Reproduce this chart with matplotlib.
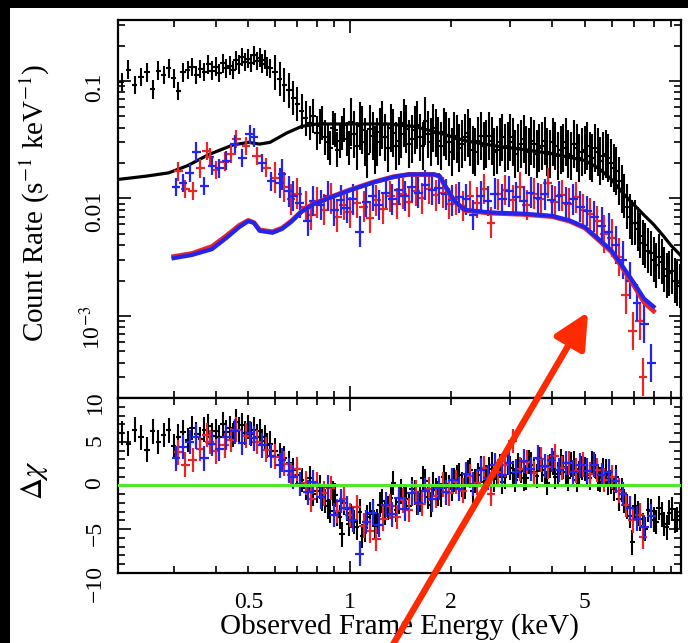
import numpy as np
import matplotlib
matplotlib.use("Agg")
import matplotlib.pyplot as plt
from matplotlib.ticker import FixedLocator, FuncFormatter, LogLocator, MultipleLocator, NullFormatter
from matplotlib.patches import Rectangle, FancyArrowPatch

plt.rcParams['font.family'] = ['Liberation Serif', 'DejaVu Serif']
plt.rcParams['mathtext.fontset'] = 'stix'

# ---- black spectrum (count rate, residuals) ----
black_e = [0.20, 0.21, 0.22, 0.23, 0.24, 0.25, 0.26, 0.27, 0.28, 0.29,
           0.30, 0.31, 0.32, 0.33, 0.34, 0.35, 0.36, 0.37, 0.38, 0.39,
           0.40, 0.41, 0.42, 0.43, 0.44, 0.45, 0.46, 0.47, 0.48, 0.49,
           0.50, 0.51, 0.52, 0.53, 0.54, 0.55, 0.56, 0.57, 0.58,
           0.60, 0.62, 0.64, 0.66, 0.68, 0.70, 0.72, 0.74, 0.76, 0.78, 0.80,
           0.83, 0.86, 0.89, 0.92, 0.95, 0.98,
           1.01, 1.05, 1.09, 1.13, 1.17, 1.21, 1.25, 1.30, 1.35, 1.40, 1.45, 1.50,
           1.56, 1.62, 1.68, 1.74, 1.80, 1.87, 1.94,
           2.01, 2.08, 2.16, 2.24, 2.32, 2.41, 2.50, 2.59, 2.69, 2.79, 2.89,
           3.00, 3.11, 3.23, 3.35, 3.47, 3.60, 3.73, 3.87, 4.01, 4.16, 4.31, 4.47, 4.64, 4.81, 4.99,
           5.17, 5.36, 5.56, 5.77, 5.98, 6.20, 6.43,
           6.67, 6.92, 7.17, 7.44, 7.71, 8.00, 8.30, 8.60, 8.92, 9.25, 9.60]
black_rate = [0.115, 0.098, 0.125, 0.092, 0.108, 0.118, 0.085, 0.122, 0.112, 0.128,
              0.105, 0.082, 0.118, 0.124, 0.131, 0.112, 0.126, 0.119, 0.138, 0.122,
              0.132, 0.117, 0.141, 0.128, 0.135, 0.124, 0.150, 0.138, 0.160, 0.145,
              0.155, 0.142, 0.165, 0.148, 0.158, 0.140, 0.152, 0.132, 0.128,
              0.118, 0.104, 0.092, 0.083, 0.072, 0.064, 0.055, 0.048, 0.044, 0.050, 0.036,
              0.044, 0.030, 0.040, 0.026, 0.036, 0.032,
              0.045, 0.028, 0.038, 0.024, 0.034, 0.030, 0.042, 0.027, 0.036, 0.031, 0.044, 0.029,
              0.038, 0.033, 0.046, 0.030, 0.036, 0.028, 0.034,
              0.025, 0.032, 0.029, 0.036, 0.026, 0.031, 0.028, 0.034, 0.025, 0.030, 0.027,
              0.033, 0.024, 0.029, 0.026, 0.031, 0.024, 0.028, 0.025, 0.030, 0.023, 0.027, 0.024, 0.029, 0.022, 0.026,
              0.023, 0.027, 0.021, 0.024, 0.020, 0.017, 0.012,
              0.0085, 0.0062, 0.0055, 0.0042, 0.0036, 0.0030, 0.0032, 0.0025, 0.0023, 0.0020, 0.0018]
black_res = [5.2, 6.0, 4.8, 6.4, 5.5, 4.1, 6.2, 5.0, 5.8, 6.3,
             4.5, 5.6, 6.1, 5.2, 6.6, 5.9, 5.3, 6.4, 6.8, 5.7,
             6.2, 5.5, 7.0, 6.1, 6.6, 5.8, 7.3, 6.4, 6.9, 6.0,
             6.7, 5.9, 6.4, 5.6, 6.2, 5.1, 5.5, 4.6, 4.8,
             4.0, 3.5, 3.1, 2.6, 1.8, 1.2, 0.6, -0.3, 0.8, -1.0, -0.6,
             -1.5, -2.4, -0.9, -3.2, -5.6, -2.7,
             -3.5, -4.8, -5.8, -3.6, -2.9, -4.1, -1.8, -2.6, 0.3, -1.9, -1.2, -2.4,
             -0.8, -1.6, 0.5, -2.2, -0.5, -1.1, 0.2,
             -0.4, 0.9, 0.1, 1.5, -0.6, 1.2, 0.4, 1.9, 0.7, 2.2, 1.0,
             2.0, 0.6, 1.7, 0.9, 2.4, 1.1, 1.8, 0.3, 2.6, 1.3, 2.1, 0.8, 2.5, 1.4, 1.9,
             0.9, 2.2, 0.7, 1.6, 0.4, 1.0, -0.5,
             -2.4, -6.5, -3.2, -4.6, -2.8, -3.9, -2.6, -4.4, -3.1, -4.0, -3.5]

# the in-between black channels above 0.8 keV
black_e2 = [0.815, 0.845, 0.875, 0.905, 0.935, 0.965, 0.995,
            1.03, 1.07, 1.11, 1.15, 1.19, 1.23, 1.275, 1.325, 1.375, 1.425,
            1.475, 1.53, 1.59, 1.65, 1.71, 1.77, 1.835, 1.905, 1.975, 2.045,
            2.12, 2.20, 2.28, 2.365, 2.455, 2.545, 2.64, 2.74, 2.84, 2.945,
            3.055, 3.17, 3.29, 3.41, 3.535, 3.665, 3.80, 3.94, 4.085, 4.235,
            4.39, 4.555, 4.725, 4.90, 5.08, 5.265, 5.46, 5.665, 5.875, 6.09, 6.315,
            6.55, 6.80, 7.05, 7.30, 7.57, 7.85, 8.15, 8.45, 8.76, 9.08, 9.42]
black_rate2 = [0.041, 0.033, 0.027, 0.038, 0.031, 0.042, 0.027,
               0.035, 0.041, 0.030, 0.039, 0.026, 0.037, 0.033, 0.040, 0.028, 0.035,
               0.039, 0.032, 0.042, 0.028, 0.035, 0.040, 0.031, 0.037, 0.030, 0.034,
               0.027, 0.033, 0.030, 0.025, 0.034, 0.029, 0.031, 0.026, 0.033, 0.028,
               0.030, 0.027, 0.032, 0.025, 0.029, 0.027, 0.031, 0.024, 0.028, 0.026,
               0.030, 0.023, 0.027, 0.025, 0.028, 0.022, 0.025, 0.023, 0.022, 0.018, 0.014,
               0.0105, 0.0070, 0.0062, 0.0048, 0.0040, 0.0034, 0.0027, 0.0029, 0.0022, 0.0024, 0.0019]
black_res2 = [-0.2, -1.8, -2.9, -1.1, -3.6, -2.0, -4.4,
              -4.2, -3.0, -5.1, -3.3, -4.6, -2.2, -3.1, -1.4, -2.8, -0.7,
              -1.5, -0.4, -2.0, 0.8, -1.3, 0.1, -0.9, 1.0, -0.2, 0.6,
              1.2, -0.1, 1.8, 0.5, 2.0, 0.9, 2.4, 1.3, 0.4, 2.6,
              1.4, 2.3, 0.8, 2.7, 1.6, 3.0, 1.2, 2.2, 1.0, 2.8,
              1.5, 2.4, 0.6, 2.0, 1.2, 2.6, 0.8, 1.8, 0.3, -0.4, -1.5,
              -1.8, -3.5, -2.4, -3.8, -5.0, -2.9, -4.2, -3.3, -4.8, -2.7, -3.9]

black_model_e = [0.205, 0.25, 0.29, 0.33, 0.38, 0.45, 0.50, 0.54, 0.58, 0.65,
                 0.72, 0.80, 1.0, 1.3, 1.55, 1.85, 2.2, 2.7, 3.3, 4.0,
                 5.0, 5.5, 6.0, 6.5, 7.0, 7.5, 8.0, 8.5, 9.0, 9.6]
black_model = [0.0145, 0.0155, 0.0165, 0.019, 0.0235, 0.0285, 0.030, 0.029, 0.030, 0.036,
               0.041, 0.043, 0.043, 0.043, 0.041, 0.036, 0.031, 0.028, 0.026, 0.024,
               0.021, 0.018, 0.0145, 0.011, 0.0088, 0.0072, 0.0060, 0.0049, 0.0040, 0.0033]

# ---- blue spectrum ----
blue_e = [0.305, 0.32, 0.335, 0.35, 0.37, 0.39, 0.41, 0.43, 0.456, 0.48,
          0.505, 0.52, 0.55, 0.585, 0.62, 0.63, 0.66, 0.68, 0.71, 0.75,
          0.78, 0.82, 0.86, 0.90, 0.94, 0.98, 1.02, 1.07, 1.12, 1.17,
          1.22, 1.28, 1.34, 1.40, 1.46, 1.53, 1.60, 1.68, 1.76, 1.84,
          1.93, 2.02, 2.12, 2.22, 2.33, 2.45, 2.57, 2.70, 2.84, 2.98,
          3.13, 3.29, 3.45, 3.62, 3.80, 3.99, 4.19, 4.40, 4.62, 4.85,
          5.09, 5.34, 5.61, 5.89, 6.18, 6.49, 6.81, 7.15, 7.51, 7.88]
blue_rate = [0.0125, 0.0135, 0.0165, 0.025, 0.0128, 0.019, 0.018, 0.021, 0.029, 0.022,
             0.035, 0.033, 0.020, 0.014, 0.0135, 0.016, 0.0115, 0.0105, 0.0092, 0.0064,
             0.0095, 0.0088, 0.0105, 0.0079, 0.0097, 0.0083, 0.0098, 0.0052, 0.0093, 0.0105,
             0.0088, 0.0112, 0.0098, 0.0118, 0.0105, 0.0125, 0.0112, 0.0130, 0.0118, 0.0122,
             0.0108, 0.0096, 0.0102, 0.0098, 0.0072, 0.0105, 0.0095, 0.0110, 0.0098, 0.0115,
             0.0102, 0.0095, 0.0112, 0.0100, 0.0108, 0.0096, 0.0105, 0.0092, 0.0098, 0.0085,
             0.0078, 0.0070, 0.0058, 0.0052, 0.0040, 0.0030, 0.0020, 0.0013, 0.00085, 0.00040]
blue_res = [3.1, 4.4, 5.0, 5.6, 3.1, 4.8, 4.2, 5.5, 6.2, 4.9,
            6.0, 5.4, 4.6, 3.4, 2.3, 2.9, 1.7, 1.0, 0.2, -0.8,
            0.4, -1.3, -0.2, -3.4, -1.8, -2.6, -3.9, -7.8, -4.2, -3.1,
            -4.5, -2.2, -3.3, -1.4, -2.7, -0.9, -2.0, -0.6, -1.6, -0.3,
            -0.8, 0.6, -0.4, 1.3, 0.2, 1.8, 0.9, 2.3, 1.2, 2.6,
            1.6, 2.8, 1.9, 3.2, 2.2, 2.9, 1.8, 2.6, 1.5, 2.3,
            1.7, 2.4, 1.2, 1.6, 0.5, -1.0, -2.6, -3.8, -4.8, -3.5]

# ---- red spectrum ----
red_e = [0.31, 0.325, 0.342, 0.36, 0.376, 0.384, 0.40, 0.426, 0.445, 0.461,
         0.492, 0.53, 0.566, 0.60, 0.64, 0.67, 0.70, 0.74, 0.77, 0.80,
         0.84, 0.88, 0.92, 0.96, 1.00, 1.05, 1.10, 1.15, 1.20, 1.26,
         1.32, 1.38, 1.44, 1.50, 1.57, 1.64, 1.72, 1.80, 1.89, 1.98,
         2.07, 2.17, 2.28, 2.39, 2.51, 2.63, 2.76, 2.90, 3.05, 3.20,
         3.36, 3.53, 3.70, 3.88, 4.07, 4.27, 4.48, 4.71, 4.94, 5.18,
         5.44, 5.71, 6.00, 6.30, 6.61, 6.94, 7.28, 7.45]
red_rate = [0.017, 0.0120, 0.0116, 0.018, 0.0254, 0.0225, 0.0175, 0.0205, 0.024, 0.032,
            0.028, 0.023, 0.0183, 0.0150, 0.0125, 0.0098, 0.0110, 0.0085, 0.0072, 0.0092,
            0.0080, 0.0100, 0.0070, 0.0088, 0.0076, 0.0092, 0.0085, 0.0068, 0.0096, 0.0082,
            0.0104, 0.0090, 0.0110, 0.0094, 0.0116, 0.0100, 0.0120, 0.0106, 0.0112, 0.0090,
            0.0098, 0.0086, 0.0104, 0.0092, 0.0120, 0.0062, 0.0108, 0.0118, 0.0096, 0.0125,
            0.0088, 0.0110, 0.0098, 0.0135, 0.0094, 0.0106, 0.0090, 0.0102, 0.0080, 0.0074,
            0.0064, 0.0050, 0.0046, 0.0032, 0.0015, 0.00075, 0.0009, 0.00030]
red_res = [3.8, 2.4, 2.9, 4.2, 5.8, 5.0, 3.9, 4.6, 5.2, 6.4,
           5.7, 5.0, 4.1, 3.3, 2.5, 1.2, 1.9, 0.3, -1.6, 0.2,
           -0.9, -0.3, -2.9, -1.5, -3.4, -2.5, -4.6, -5.2, -6.1, -3.8,
           -2.4, -3.6, -1.7, -2.8, -0.8, -2.1, -0.4, -1.2, 0.1, -0.9,
           0.4, -0.6, 1.1, 0.3, 2.0, -1.0, 1.6, 2.4, 5.1, 1.9,
           2.7, 1.4, 3.0, 2.1, 3.4, 2.0, 2.6, 1.7, 2.4, 1.3,
           1.8, 0.6, 1.0, -0.6, -2.2, -4.0, -3.4, -5.9]

# models for red / blue
rb_model_e = [0.30, 0.34, 0.39, 0.43, 0.47, 0.50, 0.52, 0.54, 0.59, 0.63,
              0.67, 0.72, 0.78, 0.88, 1.0, 1.17, 1.35, 1.5, 1.78, 1.85,
              1.95, 2.05, 2.2, 2.6, 3.3, 4.0, 4.5, 5.0, 5.5, 6.0,
              6.5, 7.0, 7.5, 8.0]
blue_model = [0.0031, 0.0033, 0.0037, 0.0046, 0.0057, 0.0064, 0.0062, 0.0053, 0.0051, 0.0055,
              0.0063, 0.0077, 0.0089, 0.0102, 0.0117, 0.0136, 0.0152, 0.0160, 0.0160, 0.0155,
              0.0120, 0.0095, 0.0080, 0.0076, 0.0074, 0.0071, 0.0065, 0.0057, 0.0045, 0.0036,
              0.0026, 0.0019, 0.0014, 0.0012]
red_model = [0.0032, 0.0034, 0.0039, 0.0048, 0.0059, 0.0065, 0.0062, 0.0054, 0.0052, 0.0056,
             0.0064, 0.0078, 0.0090, 0.0103, 0.0118, 0.0137, 0.0153, 0.0160, 0.0160, 0.0154,
             0.0118, 0.0094, 0.0079, 0.0075, 0.0073, 0.0070, 0.0064, 0.0056, 0.0044, 0.0035,
             0.0025, 0.0018, 0.0013, 0.0011]

# fractional errors by energy band
black_err_edges = [0.6, 1.0, 6.5]
black_err_frac = [0.20, 0.40, 0.60, 0.55]
rb_err_edges = [0.6, 5.5]
rb_err_frac = [0.20, 0.35, 0.45]
res_err = 1.4

x_ticks_major = [1]
x_ticks_minor = [0.3, 0.4, 0.5, 0.6, 0.7, 0.8, 0.9, 2, 3, 4, 5, 6, 7, 8, 9]
x_tick_labels = {0.5: '0.5', 1.0: '1', 2.0: '2', 5.0: '5'}

BLACK = 'black'
RED = '#e8262a'
BLUE = '#2424ee'
GREEN = '#4fe82a'


def rate_errors(e, rate, edges, fracs):
    e = np.asarray(e)
    rate = np.asarray(rate)
    f = np.asarray(fracs)[np.digitize(e, edges)]
    return [rate - rate / (1 + f), rate * f]


def style(ax):
    ax.tick_params(which='both', direction='in', top=True, right=True,
                   width=1.2, labelsize=17, pad=9)
    ax.tick_params(which='major', length=9)
    ax.tick_params(which='minor', length=5)
    ax.tick_params(axis='y', which='both', labelrotation=90)
    for s in ax.spines.values():
        s.set_linewidth(1.6)
    ax.set_xscale('log')
    ax.set_xlim(0.205, 9.65)
    ax.xaxis.set_major_locator(FixedLocator(x_ticks_major))
    ax.xaxis.set_minor_locator(FixedLocator(x_ticks_minor))
    lab = FuncFormatter(lambda v, p: x_tick_labels.get(round(v, 1), ''))
    ax.xaxis.set_major_formatter(lab)
    ax.xaxis.set_minor_formatter(lab)


all_black_e = np.concatenate([black_e, black_e2])
all_black_rate = np.concatenate([black_rate, black_rate2])
all_black_res = np.concatenate([black_res, black_res2])

fig = plt.figure(figsize=(6.88, 6.43), dpi=100, facecolor='black')
fig.add_artist(Rectangle((10 / 688, 0), 1, 635 / 643, transform=fig.transFigure,
                         facecolor='white', edgecolor='none', zorder=-10))

ax1 = fig.add_axes([0.1715, 0.381, 0.8183, 0.5879])
ax2 = fig.add_axes([0.1715, 0.1089, 0.8183, 0.2721])

# top panel
ax1.errorbar(all_black_e, all_black_rate, xerr=all_black_e * 0.018,
             yerr=rate_errors(all_black_e, all_black_rate, black_err_edges, black_err_frac),
             fmt='none', ecolor=BLACK, elinewidth=1.5, capsize=0)
ax1.plot(black_model_e, black_model, color=BLACK, lw=2.3)
ax1.errorbar(red_e, red_rate, xerr=np.asarray(red_e) * 0.03,
             yerr=rate_errors(red_e, red_rate, rb_err_edges, rb_err_frac),
             fmt='none', ecolor=RED, elinewidth=1.6, capsize=0)
ax1.errorbar(blue_e, blue_rate, xerr=np.asarray(blue_e) * 0.03,
             yerr=rate_errors(blue_e, blue_rate, rb_err_edges, rb_err_frac),
             fmt='none', ecolor=BLUE, elinewidth=1.6, capsize=0)
ax1.plot(rb_model_e, red_model, color=RED, lw=3.4)
ax1.plot(rb_model_e, blue_model, color=BLUE, lw=3.0)

style(ax1)
ax1.set_yscale('log')
ax1.set_ylim(2.0e-4, 0.33)
ax1.yaxis.set_major_locator(LogLocator(base=10))
ax1.yaxis.set_minor_locator(LogLocator(base=10, subs=np.arange(2, 10)))
ax1.yaxis.set_minor_formatter(NullFormatter())
y_labels = {-1: '0.1', -2: '0.01', -3: '10$^{-3}$'}
ax1.yaxis.set_major_formatter(FuncFormatter(lambda v, p: y_labels.get(int(round(np.log10(v))), '')))
ax1.tick_params(axis='x', which='both', labelbottom=False)

# residual panel
ax2.errorbar(all_black_e, all_black_res, xerr=all_black_e * 0.018, yerr=res_err,
             fmt='none', ecolor=BLACK, elinewidth=1.5, capsize=0)
ax2.errorbar(red_e, red_res, xerr=np.asarray(red_e) * 0.03, yerr=res_err,
             fmt='none', ecolor=RED, elinewidth=1.6, capsize=0)
ax2.errorbar(blue_e, blue_res, xerr=np.asarray(blue_e) * 0.03, yerr=res_err,
             fmt='none', ecolor=BLUE, elinewidth=1.6, capsize=0)
ax2.axhline(0, color=GREEN, lw=2.2, zorder=5)

style(ax2)
ax2.set_ylim(-10, 10)
ax2.yaxis.set_major_locator(MultipleLocator(5))
ax2.yaxis.set_minor_locator(MultipleLocator(1))
ax2.yaxis.set_major_formatter(FuncFormatter(lambda v, p: ('%d' % v).replace('-', '\u2212')))
ax2.tick_params(axis='x', which='both', pad=14)
ax2.set_xlabel('Observed Frame Energy (keV)', fontsize=21, labelpad=0)

fig.text(35 / 688, 1 - 203 / 643, 'Count Rate (s$^{-1}$ keV$^{-1}$)', rotation=90,
         ha='center', va='center', fontsize=21)
fig.text(35 / 688, 1 - 480 / 643, '$\\Delta\\chi$', rotation=90,
         ha='center', va='center', fontsize=22)

# red arrow drawn over the slide
arrow = FancyArrowPatch((3.88, -0.10), (5.88, 3.31), transform=fig.dpi_scale_trans,
                        arrowstyle='-|>,head_length=0.85,head_width=0.42', mutation_scale=25,
                        lw=4.6, color='#ff2a00', shrinkA=0, shrinkB=0, zorder=20)
fig.add_artist(arrow)

fig.savefig('out.png', dpi=100, facecolor=fig.get_facecolor())
